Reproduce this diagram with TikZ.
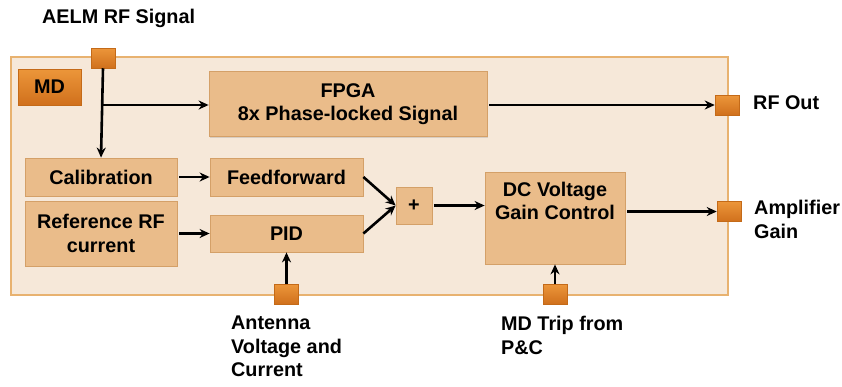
\documentclass[tikz,border=0pt]{standalone}
\usepackage{fontspec}
\setmainfont{Liberation Sans}
\usetikzlibrary{arrows.meta,shadows}
\definecolor{outerfill}{RGB}{246,232,217}
\definecolor{outerdraw}{RGB}{232,178,112}
\definecolor{boxfill}{RGB}{234,188,138}
\definecolor{boxdraw}{RGB}{212,160,104}
\definecolor{porttop}{RGB}{236,150,58}
\definecolor{portbot}{RGB}{208,112,28}
\definecolor{portdraw}{RGB}{196,106,24}
\tikzset{
  x=1pt, y=-1pt,
  every node/.style={font=\fontsize{19.8}{23.5}\selectfont\bfseries, inner sep=0pt},
  blk/.style={rectangle, fill=boxfill, draw=boxdraw, line width=0.8pt, align=center,
    drop shadow={shadow xshift=1pt, shadow yshift=-1.2pt, opacity=0.25}},
  port/.style={rectangle, top color=porttop, bottom color=portbot, draw=portdraw, line width=0.5pt, minimum width=24pt, minimum height=20pt},
  lbl/.style={align=left, anchor=west},
  conn/.style={line width=2.6pt, -{Stealth[length=10pt,width=9pt]}}
}
\begin{document}
\begin{tikzpicture}
\useasboundingbox (0,0) rectangle (842,386);
% outer MD box
\node[rectangle, fill=outerfill, draw=outerdraw, line width=1.5pt, minimum width=717pt, minimum height=238pt] (outer) at (369.5,176) {};
\node[rectangle, top color=porttop, bottom color=portbot, draw=portdraw, line width=0.5pt, minimum width=63pt, minimum height=36pt,
  drop shadow={shadow xshift=1pt, shadow yshift=-1.2pt, opacity=0.25}] (md) at (49.5,87) {MD};
% blocks
\node[blk, minimum width=278pt, minimum height=65pt] (fpga) at (348,104) {FPGA\\8x Phase-locked Signal};
\node[blk, minimum width=152pt, minimum height=38pt] (cal) at (101,177) {Calibration};
\node[blk, minimum width=152pt, minimum height=65pt] (ref) at (101,233.5) {Reference RF\\current};
\node[blk, minimum width=153pt, minimum height=38pt] (ff) at (286.5,177) {Feedforward};
\node[blk, minimum width=153pt, minimum height=37pt] (pid) at (286.5,233.5) {PID};
\node[blk, minimum width=36pt, minimum height=37pt] (plus) at (414,205.5) {+};
\node[blk, minimum width=140pt, minimum height=92pt] (dc) at (555,218) {};
\node[align=center] (dct) at (555,201) {DC Voltage\\Gain Control};
% ports
\node[port] (aelm) at (103,58) {};
\node[port] (rfout) at (727,105) {};
\node[port] (amp) at (729,211.5) {};
\node[port] (ant) at (286.5,294) {};
\node[port] (trip) at (555,294) {};
% labels
\node[lbl] (laelm) at (42,18) {AELM RF Signal};
\node[lbl] (lrfout) at (753,103) {RF Out};
\node[lbl, anchor=north west] (lamp) at (754,200) {Amplifier\\Gain};
\node[lbl, anchor=north west] (lant) at (231,316) {Antenna\\Voltage and\\Current};
\node[lbl, anchor=north west] (ltrip) at (501,316) {MD Trip from\\P\&C};
% connectors
\coordinate (br) at (aelm.center |- 0,105);
\draw[conn] (aelm.south) -- (cal.north);
\draw[conn] (br) -- (fpga.west |- br);
\draw[conn] (fpga.east |- rfout) ++(2,0) -- (rfout.west);
\draw[conn] (cal.east) ++(2,0) -- (ff.west);
\draw[conn] (ref.east |- pid) ++(2,0) -- (pid.west);
\draw[conn] (ff.east) -- (plus.west);
\draw[conn] (pid.east) -- (plus.west);
\draw[conn] (plus.east) ++(2,0) -- (dc.west |- plus);
\draw[conn] (dc.east |- amp) ++(2,0) -- (amp.west);
\draw[conn] (ant.north) -- (pid.south);
\draw[conn] (trip.north) -- (dc.south);
\end{tikzpicture}
\end{document}
